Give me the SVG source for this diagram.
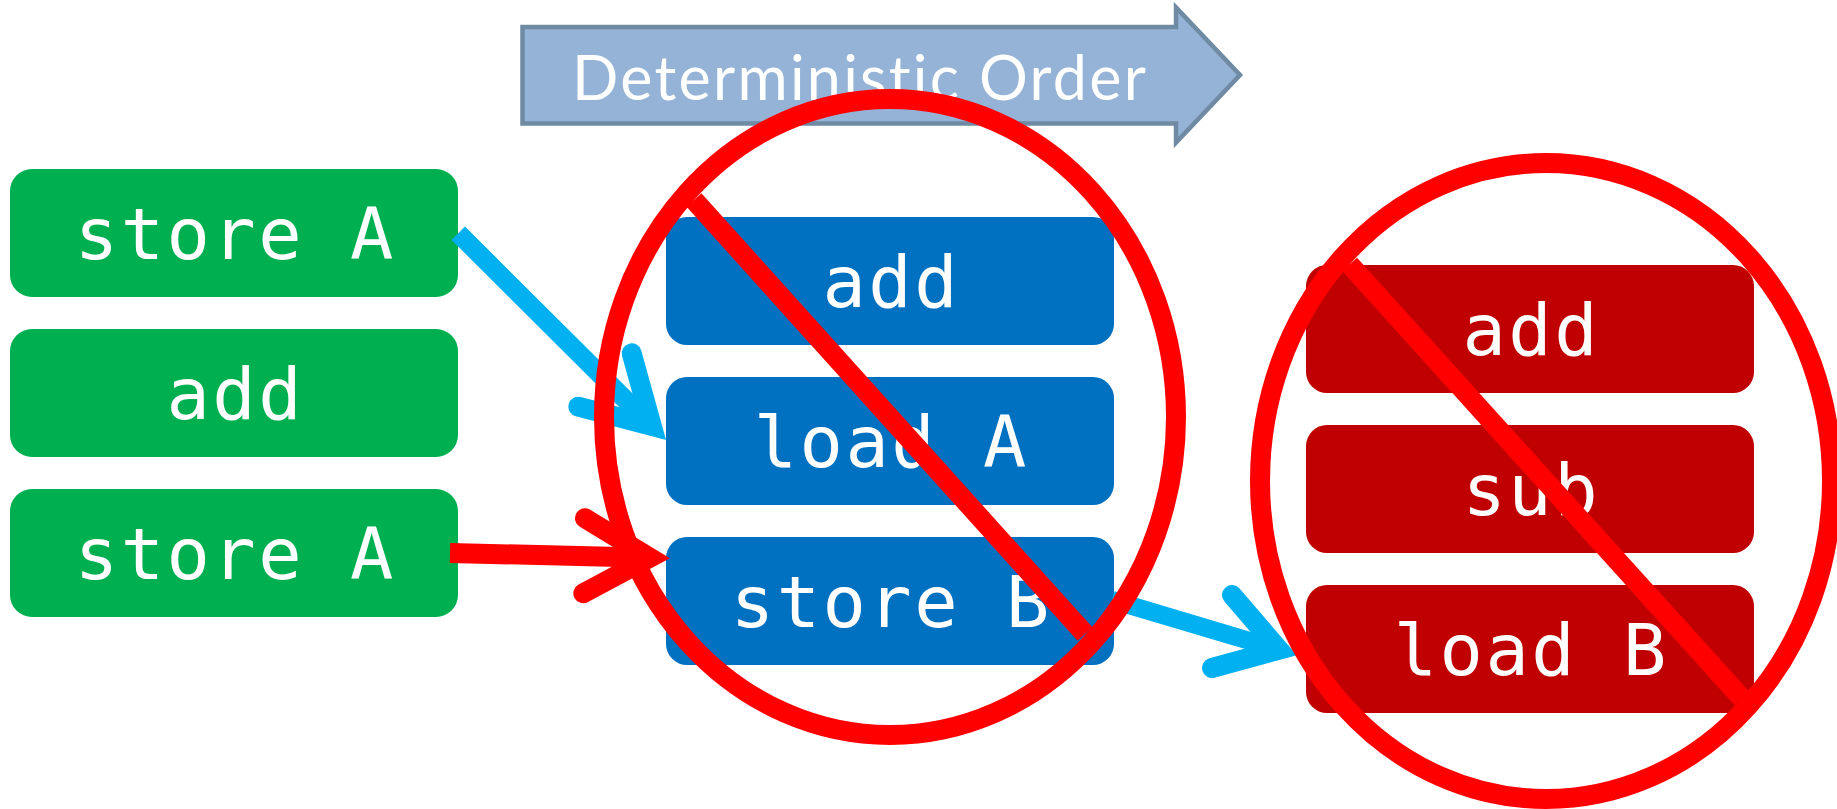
<svg xmlns="http://www.w3.org/2000/svg" width="1837" height="809" viewBox="0 0 1837 809">
  <style>
    .op { font-family: "DejaVu Sans Mono", "Liberation Mono", monospace; font-size: 72px; fill: #FFFFFF; text-anchor: middle; letter-spacing: 2.5px; }
    .green { fill: #00B050; }
    .blue { fill: #0070C0; }
    .red { fill: #C00000; }
    .shaft { fill: none; stroke-linecap: butt; }
    .head { fill: none; stroke-linecap: round; stroke-linejoin: miter; stroke-miterlimit: 10; }
    .cyan { stroke: #00B0F0; }
    .hot { stroke: #FF0000; }
    .ban { fill: none; stroke: #FF0000; stroke-width: 20; }
    .title { font-family: "Lato", "Open Sans", "Liberation Sans", sans-serif; font-size: 61px; fill: #FFFFFF; font-variant-ligatures: none; }
  </style>

  <rect width="1837" height="809" fill="#FFFFFF"/>

  <!-- banner arrow -->
  <g id="order-arrow">
    <polygon points="522.5,27 1176,27 1176,7.5 1240,75 1176,142.5 1176,123.5 522.5,123.5" fill="#95B3D7" stroke="#6F8BA3" stroke-width="4.5"/>
    <text class="title" x="572" y="100" textLength="574" lengthAdjust="spacing">Deterministic Order</text>
  </g>

  <!-- thread 1 -->
  <g id="t1-store-a">
    <rect class="green" x="10" y="169" width="448" height="128" rx="22"/>
    <text class="op" x="235.3" y="259">store A</text>
  </g>
  <g id="t1-add">
    <rect class="green" x="10" y="329" width="448" height="128" rx="22"/>
    <text class="op" x="235.3" y="419">add</text>
  </g>
  <g id="t1-store-a2">
    <rect class="green" x="10" y="489" width="448" height="128" rx="22"/>
    <text class="op" x="235.3" y="579">store A</text>
  </g>

  <!-- thread 2 -->
  <g id="t2-add">
    <rect class="blue" x="666" y="217" width="448" height="128" rx="21"/>
    <text class="op" x="891.3" y="307">add</text>
  </g>
  <g id="t2-load-a">
    <rect class="blue" x="666" y="377" width="448" height="128" rx="21"/>
    <text class="op" x="891.3" y="467">load A</text>
  </g>
  <g id="t2-store-b">
    <rect class="blue" x="666" y="537" width="448" height="128" rx="21"/>
    <text class="op" x="891.3" y="627">store B</text>
  </g>

  <!-- thread 3 -->
  <g id="t3-add">
    <rect class="red" x="1306" y="265" width="448" height="128" rx="21"/>
    <text class="op" x="1531.3" y="355">add</text>
  </g>
  <g id="t3-sub">
    <rect class="red" x="1306" y="425" width="448" height="128" rx="21"/>
    <text class="op" x="1531.3" y="515">sub</text>
  </g>
  <g id="t3-load-b">
    <rect class="red" x="1306" y="585" width="448" height="128" rx="21"/>
    <text class="op" x="1531.3" y="675">load B</text>
  </g>

  <!-- dependency connectors -->
  <g id="connectors">
    <path class="shaft cyan" stroke-width="19" d="M458.3,233.3 L651.8,426"/>
    <path class="head cyan" stroke-width="20" d="M631.7,353.3 L651.8,426 L578.3,406.7"/>

    <path class="shaft hot" stroke-width="20" d="M450,553 L649.8,557.7"/>
    <path class="head hot" stroke-width="20" d="M585,518.3 L649.8,557.7 L583.3,593.3"/>

    <path class="shaft cyan" stroke-width="18" d="M1112,600 L1279,649.7"/>
    <path class="head cyan" stroke-width="20" d="M1232,595 L1279,649.7 L1212,668"/>
  </g>

  <!-- crossed-out groups -->
  <g id="ban-t2">
    <ellipse class="ban" cx="890" cy="417" rx="286" ry="318"/>
    <line class="ban" x1="694" y1="200" x2="1085" y2="634"/>
  </g>
  <g id="ban-t3">
    <ellipse class="ban" cx="1546" cy="481" rx="286" ry="318"/>
    <line class="ban" x1="1349.6" y1="264.4" x2="1742" y2="698.5"/>
  </g>
</svg>
